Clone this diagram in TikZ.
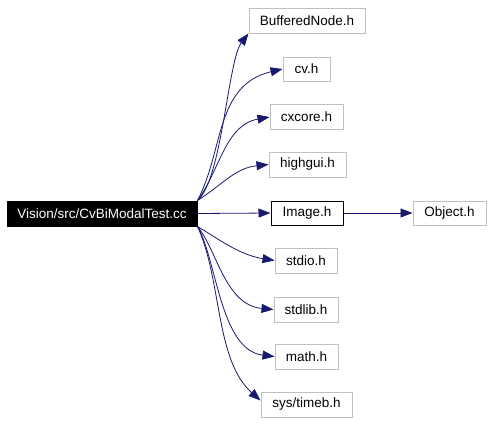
\documentclass[tikz,border=0pt]{standalone}
\usepackage{fontspec}
\setmainfont{Liberation Sans}
\usetikzlibrary{arrows.meta}
\definecolor{edgec}{HTML}{191970}
\definecolor{boxc}{HTML}{BFBFBF}
\begin{document}
\begin{tikzpicture}[x=1pt,y=-1pt,
  box/.style={draw=boxc,line width=1pt,fill=white,inner sep=0pt,font=\fontsize{13.5}{15}\selectfont},
  dep/.style={draw=edgec,line width=0.8pt,-{Triangle[length=12pt,width=9pt]}}]
\useasboundingbox (0,0) rectangle (492,423);
\node[box,fill=black,draw=black,text=white,minimum width=190pt,minimum height=25pt] (main) at (102,213.5) {Vision/src/CvBiModalTest.cc};
\node[box,minimum width=116pt,minimum height=25pt] (buf) at (307,20.5) {BufferedNode.h};
\node[box,minimum width=47pt,minimum height=24pt] (cv) at (306.5,69) {cv.h};
\node[box,minimum width=73pt,minimum height=25pt] (cxcore) at (306.5,117) {cxcore.h};
\node[box,minimum width=77pt,minimum height=25pt] (highgui) at (307.5,164.5) {highgui.h};
\node[box,draw=black,minimum width=72pt,minimum height=24pt] (image) at (307,213) {Image.h};
\node[box,minimum width=73pt,minimum height=24pt] (object) at (449.5,213) {Object.h};
\node[box,minimum width=62pt,minimum height=25pt] (stdio) at (306,260.5) {stdio.h};
\node[box,minimum width=64pt,minimum height=25pt] (stdlib) at (306,309.5) {stdlib.h};
\node[box,minimum width=63pt,minimum height=25pt] (math) at (306.5,356.5) {math.h};
\node[box,minimum width=91pt,minimum height=25pt] (timeb) at (306.5,404.5) {sys/timeb.h};
\draw[dep] (main.north east) .. controls (222,180) and (228,60) .. (buf.south west);
\draw[dep] (main.north east) .. controls (224,150) and (215,85) .. (cv.west);
\draw[dep] (main.north east) .. controls (220,170) and (225,125) .. (cxcore.west);
\draw[dep] (main.north east) .. controls (222,185) and (235,168) .. (highgui.west);
\draw[dep] (main.east) -- (image.west);
\draw[dep] (image.east) -- (object.west);
\draw[dep] (main.south east) .. controls (220,240) and (240,255) .. (stdio.west);
\draw[dep] (main.south east) .. controls (217,250) and (225,305) .. (stdlib.west);
\draw[dep] (main.south east) .. controls (217,260) and (220,350) .. (math.west);
\draw[dep] (main.south east) .. controls (222,280) and (215,360) .. ([yshift=4pt]timeb.west);
\end{tikzpicture}
\end{document}
